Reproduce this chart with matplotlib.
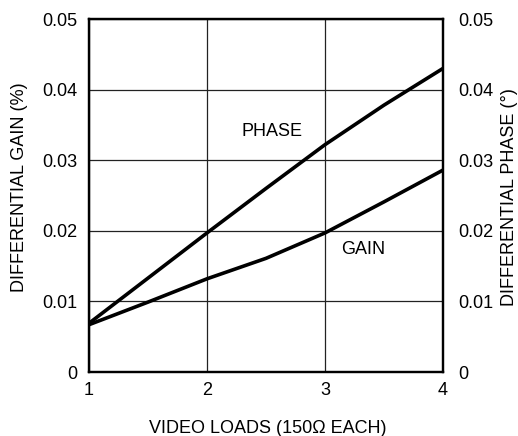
import numpy as np
import matplotlib
matplotlib.use("Agg")
import matplotlib.pyplot as plt

plt.rcParams['font.family'] = ['Liberation Sans', 'DejaVu Sans']

# video loads
loads = [1, 1.5, 2, 2.5, 3, 3.5, 4]
# differential phase (deg)
phase = [0.0069, 0.0133, 0.0197, 0.0260, 0.0322, 0.0378, 0.0430]
# differential gain (%)
gain = [0.0067, 0.0099, 0.0132, 0.0161, 0.0197, 0.0241, 0.0286]

yticks = [0, 0.01, 0.02, 0.03, 0.04, 0.05]
ylabs = ['0', '0.01', '0.02', '0.03', '0.04', '0.05']

fs = 13
W, H = 518, 436

fig = plt.figure(figsize=(W/100, H/100), dpi=100)
ax = fig.add_axes([89/W, 1-372/H, (443-89)/W, (372-19)/H])

ax.plot(loads, phase, color='black', lw=2.6, solid_capstyle='butt')
ax.plot(loads, gain, color='black', lw=2.6, solid_capstyle='butt')

ax.set_xlim(1, 4)
ax.set_ylim(0, 0.05)
ax.set_xticks([1, 2, 3, 4])
ax.set_xticklabels(['1', '2', '3', '4'])
ax.set_yticks(yticks)
ax.set_yticklabels(ylabs)
ax.grid(True, color='#222222', lw=0.9)
ax.tick_params(length=0, labelsize=fs)
ax.tick_params(axis='x', pad=7)
ax.tick_params(axis='y', pad=8.5)
for s in ax.spines.values():
    s.set_linewidth(1.6)

ax2 = ax.twinx()
ax2.set_ylim(0, 0.05)
ax2.set_yticks(yticks)
ax2.set_yticklabels(ylabs)
ax2.tick_params(length=0, labelsize=fs, pad=11)
for s in ax2.spines.values():
    s.set_linewidth(1.6)

# axis titles
fig.text(268/W, 1-428/H, 'VIDEO LOADS (150Ω EACH)', fontsize=fs, ha='center', va='center')
fig.text(20/W, 1-187/H, 'DIFFERENTIAL GAIN (%)', fontsize=fs, rotation=90, ha='center', va='center')
fig.text(510/W, 1-197/H, 'DIFFERENTIAL PHASE (°)', fontsize=fs, rotation=90, ha='center', va='center')

ax.text(2.55, 0.0341, 'PHASE', fontsize=fs, ha='center', va='center')
ax.text(3.32, 0.0173, 'GAIN', fontsize=fs, ha='center', va='center')

fig.savefig('out.png', dpi=100)
